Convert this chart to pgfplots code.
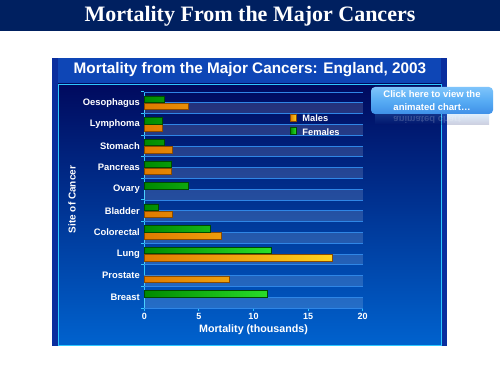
\documentclass[border=0pt]{standalone}
\usepackage{fontspec}
\setmainfont{Liberation Sans}
\newfontfamily\titlefont{Liberation Serif}
\usepackage{pgfplots}
\pgfplotsset{compat=1.18}
\definecolor{banner}{HTML}{002060}
\definecolor{panelside}{HTML}{0A2E9E}
\definecolor{paneltop}{HTML}{0E46B6}
\definecolor{plottop}{HTML}{000A5E}
\definecolor{plotbot}{HTML}{0062CE}
\definecolor{cyanline}{HTML}{2EC8FF}
\definecolor{gridline}{HTML}{2F86E6}
\definecolor{orangeL}{HTML}{E07A00}
\definecolor{orangeR}{HTML}{FFD21E}
\definecolor{orangeE}{HTML}{8A4A00}
\definecolor{greenL}{HTML}{008A00}
\definecolor{greenR}{HTML}{2AE02A}
\definecolor{greenE}{HTML}{004A00}
\definecolor{btn}{HTML}{58ACF4}
\definecolor{btntop}{HTML}{7EC4FB}
\definecolor{btnbot}{HTML}{3E90E8}

\pgfplotstableread{
y x
9 4.05
8 1.65
7 2.55
6 2.50
4 2.55
3 7.05
2 17.2
1 7.75
}\males
\pgfplotstableread{
y x
9 1.80
8 1.60
7 1.80
6 2.50
5 4.05
4 1.30
3 6.00
2 11.6
0 11.25
}\females

\begin{document}
\begin{tikzpicture}
\useasboundingbox (0pt,0pt) rectangle (500pt,375pt);
\fill[white] (0pt,0pt) rectangle (500pt,375pt);
% banner
\fill[banner] (0pt,343.5pt) rectangle (500pt,375pt);
\node[text=white, font=\titlefont\bfseries\fontsize{22}{24}\selectfont] at (250pt,359pt) {Mortality From the Major Cancers};
% panel
\fill[panelside] (52pt,29pt) rectangle (447pt,317pt);
\fill[paneltop] (58pt,291pt) rectangle (441pt,317pt);
\shade[top color=plottop, bottom color=plotbot] (58pt,30pt) rectangle (441pt,291pt);
\draw[cyanline, line width=0.9pt] (58pt,30pt) rectangle (441pt,291pt);
\node[text=white, font=\bfseries\fontsize{15.3}{17}\selectfont] at (250pt,305pt) {Mortality from the Major Cancers: England, 2003};
% axis titles
\node[text=white, rotate=90, font=\bfseries\fontsize{10}{12}\selectfont] at (72pt,175.5pt) {Site of Cancer};
\node[text=white, font=\bfseries\fontsize{10.7}{12}\selectfont] at (253.5pt,45pt) {Mortality (thousands)};

\begin{axis}[
  at={(144.3pt,67pt)}, anchor=south west,
  width=218.4pt, height=216pt, scale only axis,
  xmin=0, xmax=20, ymin=-0.5, ymax=9.5,
  axis lines*=left,
  axis line style={cyanline, line width=1pt},
  xtick={0,5,10,15,20},
  xtick align=outside,
  major tick length=3pt,
  x tick style={cyanline, line width=1pt},
  ytick={0,...,9},
  yticklabels={Breast,Prostate,Lung,Colorectal,Bladder,Ovary,Pancreas,Stomach,Lymphoma,Oesophagus},
  y tick style={draw=none},
  /pgf/number format/assume math mode=true,
  x tick label style={text=white, font=\bfseries\fontsize{9}{10}\selectfont, yshift=1pt},
  y tick label style={text=white, font=\bfseries\fontsize{9.4}{11}\selectfont, xshift=-1pt},
  clip=false,
  legend style={at={(0.652,0.912)}, anchor=north west, draw=none, fill=none,
    text=white, font=\bfseries\fontsize{9.3}{11}\selectfont, row sep=1pt,
    legend cell align=left},
  legend image code/.code={\draw[#1] (0pt,-1.8pt) rectangle (6pt,5.2pt); \path (10pt,0pt);},
]
% stripes and grid lines
\pgfplotsinvokeforeach{0,...,9}{
  \fill[white, opacity=0.14] (axis cs:0,#1-0.5) rectangle (axis cs:20,#1);
}
\pgfplotsinvokeforeach{-0.5,0.5,1.5,2.5,3.5,4.5,5.5,6.5,7.5,8.5,9.5}{
  \draw[gridline, line width=0.8pt] (axis cs:0,#1) -- (axis cs:20,#1);
  \draw[cyanline, line width=1pt] ([xshift=-3pt]axis cs:0,#1) -- (axis cs:0,#1);
}
\pgfplotsinvokeforeach{0,...,9}{
  \draw[gridline, line width=0.8pt] (axis cs:0,#1) -- (axis cs:20,#1);
}
\addplot[xbar, bar width=0.3, bar shift=-0.165, draw=orangeE, line width=0.5pt,
  left color=orangeL, right color=orangeR] table[x=x,y=y] {\males};
\addplot[xbar, bar width=0.3, bar shift=0.165, draw=greenE, line width=0.5pt,
  left color=greenL, right color=greenR] table[x=x,y=y] {\females};
\legend{Males, Females}
\end{axis}

% button reflection
\shade[top color=btn, bottom color=plottop, opacity=0.2] (375pt,250pt) rectangle (489pt,261pt);
\node[text=white, opacity=0.18, yscale=-1, font=\bfseries\fontsize{9.5}{11}\selectfont] at (432pt,255pt) {animated chart…};
% button
\shade[rounded corners=4pt, top color=btntop, bottom color=btnbot, middle color=btn] (371pt,261pt) rectangle (493pt,288pt);
\node[text=white, align=center, font=\bfseries\fontsize{9.5}{12.5}\selectfont] at (432pt,274.5pt) {Click here to view the\\animated chart…};
\end{tikzpicture}
\end{document}
